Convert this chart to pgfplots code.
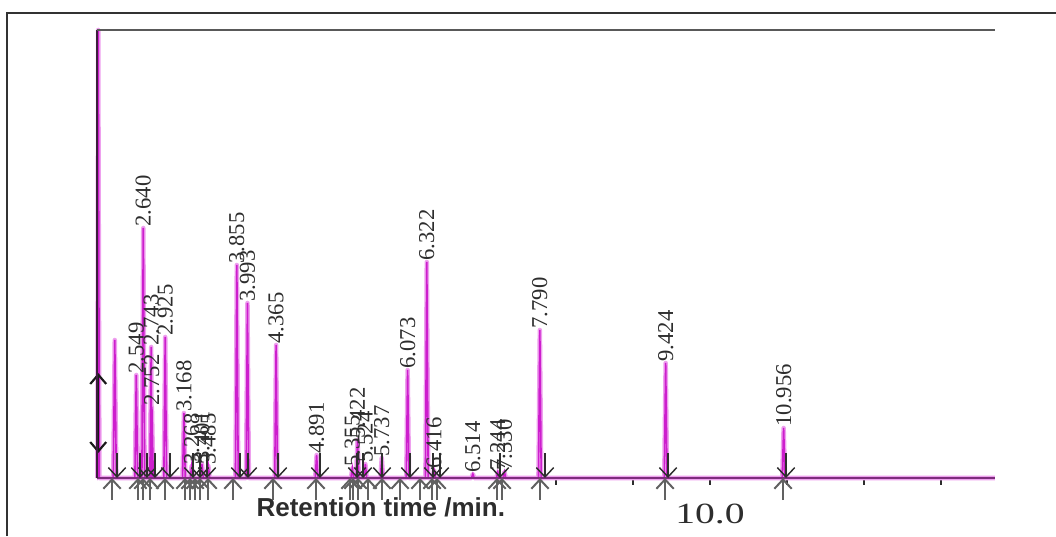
\documentclass[border=0pt]{standalone}
\usepackage{graphicx}
\usepackage{pgfplots}
\pgfplotsset{compat=1.18}
\usetikzlibrary{arrows.meta}
\usepackage{fontspec}
\setmainfont{Liberation Serif}
\newfontfamily\labsans{Liberation Sans}
\definecolor{peak}{RGB}{205,30,205}
\definecolor{halo}{RGB}{238,160,238}
\definecolor{base}{RGB}{125,45,125}
\definecolor{txt}{RGB}{45,45,45}
\begin{document}
\begin{tikzpicture}[x=0.75pt,y=0.75pt]
\path[use as bounding box] (0,0) rectangle (1056,536);
\begin{axis}[
  at={(72.75pt,43.5pt)}, anchor=south west,
  scale only axis, width=673.5pt, height=336pt,
  xmin=2.039, xmax=13.701, ymin=0, ymax=448,
  clip=false,
  axis line style={draw=none},
  ytick=\empty,
  xtick={8,9,10,11,12,13},
  xticklabels={,,\scalebox{1.35}[1]{10.0},,,},
  xtick pos=left, tick align=outside,
  major tick length=5pt,
  every tick/.style={draw=txt, line width=1.4pt},
  xticklabel style={font=\fontsize{22}{22}\selectfont, text=txt, yshift=-11pt},
  xlabel={\labsans\bfseries Retention time /min.},
  xlabel style={at={(rel axis cs:0.316,-0.0647)}, anchor=center, font=\fontsize{19.5}{19.5}\selectfont, text=txt},
]
% peaks: halo then core
\addplot[halo, line width=3.4pt, line join=round] coordinates {
(2.039,0)(2.045,0)(2.055,448)(2.07,0)
(2.25,0)(2.27,138)(2.29,0)
(2.531,0)(2.549,103)(2.567,0)
(2.622,0)(2.640,250)(2.658,0)
(2.725,0)(2.743,131)(2.748,0)
(2.748,0)(2.752,71)(2.77,0)
(2.907,0)(2.925,141)(2.943,0)
(3.15,0)(3.168,65)(3.186,0)
(3.25,0)(3.268,12)(3.286,0)
(3.383,0)(3.401,14)(3.419,0)
(3.467,0)(3.485,12)(3.503,0)
(3.837,0)(3.855,213)(3.873,0)
(3.975,0)(3.993,175)(4.011,0)
(4.347,0)(4.365,133)(4.383,0)
(4.873,0)(4.891,23)(4.909,0)
(5.337,0)(5.355,10)(5.373,0)
(5.404,0)(5.422,38)(5.44,0)
(5.506,0)(5.524,14)(5.542,0)
(5.719,0)(5.737,20)(5.755,0)
(6.055,0)(6.073,108)(6.091,0)
(6.304,0)(6.322,216)(6.34,0)
(6.398,0)(6.416,8)(6.434,0)
(6.902,0)(6.92,4)(6.938,0)
(7.226,0)(7.244,6)(7.262,0)
(7.312,0)(7.330,6)(7.348,0)
(7.772,0)(7.790,148)(7.808,0)
(9.406,0)(9.424,115)(9.442,0)
(10.938,0)(10.956,50)(10.974,0)
(13.70,0)};
\addplot[peak, line width=1.2pt, line join=miter] coordinates {
(2.039,0)(2.045,0)(2.055,448)(2.07,0)
(2.25,0)(2.27,138)(2.29,0)
(2.531,0)(2.549,103)(2.567,0)
(2.622,0)(2.640,250)(2.658,0)
(2.725,0)(2.743,131)(2.748,0)
(2.748,0)(2.752,71)(2.77,0)
(2.907,0)(2.925,141)(2.943,0)
(3.15,0)(3.168,65)(3.186,0)
(3.25,0)(3.268,12)(3.286,0)
(3.383,0)(3.401,14)(3.419,0)
(3.467,0)(3.485,12)(3.503,0)
(3.837,0)(3.855,213)(3.873,0)
(3.975,0)(3.993,175)(4.011,0)
(4.347,0)(4.365,133)(4.383,0)
(4.873,0)(4.891,23)(4.909,0)
(5.337,0)(5.355,10)(5.373,0)
(5.404,0)(5.422,38)(5.44,0)
(5.506,0)(5.524,14)(5.542,0)
(5.719,0)(5.737,20)(5.755,0)
(6.055,0)(6.073,108)(6.091,0)
(6.304,0)(6.322,216)(6.34,0)
(6.398,0)(6.416,8)(6.434,0)
(6.902,0)(6.92,4)(6.938,0)
(7.226,0)(7.244,6)(7.262,0)
(7.312,0)(7.330,6)(7.348,0)
(7.772,0)(7.790,148)(7.808,0)
(9.406,0)(9.424,115)(9.442,0)
(10.938,0)(10.956,50)(10.974,0)
(13.70,0)};
% baseline
\addplot[base, line width=1.5pt] coordinates {(2.039,0)(13.701,0)};
% peak start markers (up arrows from below)
\addplot[draw=black!62, line width=1.5pt, quiver={u=0,v=\thisrow{v}},
  -{Straight Barb[length=7pt,width=13pt]}] table {
x y v
2.234 -22 22
2.571 -22 22
2.636 -22 22
2.727 -22 22
2.922 -22 22
3.182 -22 22
3.247 -22 22
3.312 -22 22
3.377 -22 22
3.481 -22 22
3.805 -22 22
4.325 -22 22
4.883 -22 22
5.325 -22 22
5.364 -22 22
5.429 -22 22
5.558 -22 22
5.740 -22 22
5.974 -22 22
6.234 -22 22
6.390 -22 22
6.455 -22 22
7.234 -22 22
7.299 -22 22
7.792 -22 22
9.416 -22 22
10.948 -22 22
};
% peak end markers (down arrows from above)
\addplot[draw=black!82, line width=1.1pt, quiver={u=0,v=\thisrow{v}},
  -{Straight Barb[length=7pt,width=13pt]}] table {
x y v
2.299 25 -25
2.597 25 -25
2.688 25 -25
2.792 25 -25
2.987 25 -25
3.286 25 -25
3.377 25 -25
3.468 25 -25
3.896 25 -25
4.000 25 -25
4.390 25 -25
4.935 25 -25
5.416 25 -25
5.494 25 -25
5.740 25 -25
6.104 25 -25
6.403 25 -25
6.494 25 -25
7.273 25 -25
7.857 25 -25
9.455 25 -25
10.987 25 -25
};
% double arrow near solvent front
\addplot[draw=black!90, line width=1.6pt, quiver={u=0,v=\thisrow{v}},
  {Straight Barb[length=7pt,width=12pt]}-{Straight Barb[length=7pt,width=12pt]}] table {
x y v
2.055 25 80
};
% retention time labels
\addplot[draw=none, mark=none, nodes near coords, point meta=explicit symbolic,
  nodes near coords style={rotate=90, anchor=west, inner sep=1pt,
  font=\fontsize{17}{17}\selectfont, text=txt}] table[x=t, y=h, meta=label] {
t h label
2.549 103 2.549
2.640 250 2.640
2.743 131 2.743
2.752 71 2.752
2.925 141 2.925
3.168 65 3.168
3.268 12 3.268
3.401 14 3.401
3.485 12 3.485
3.855 213 3.855
3.993 175 3.993
4.365 133 4.365
4.891 23 4.891
5.355 10 5.355
5.422 38 5.422
5.524 14 5.524
5.737 20 5.737
6.073 108 6.073
6.322 216 6.322
6.416 8 6.416
6.92 4 6.514
7.244 6 7.244
7.330 6 7.330
7.790 148 7.790
9.424 115 9.424
10.956 50 10.956
};
% frame lines of the plot
\draw[line width=1.5pt, draw={rgb,255:red,60;green,30;blue,60}] (rel axis cs:0,0) -- (rel axis cs:0,1);
\draw[line width=1.3pt, draw=black!65] (rel axis cs:0,1) -- (rel axis cs:1,1);
\end{axis}
% outer figure border
\draw[line width=1.2pt, draw=black!80] (7,0) -- (7,523) -- (1056,523);
\end{tikzpicture}
\end{document}
